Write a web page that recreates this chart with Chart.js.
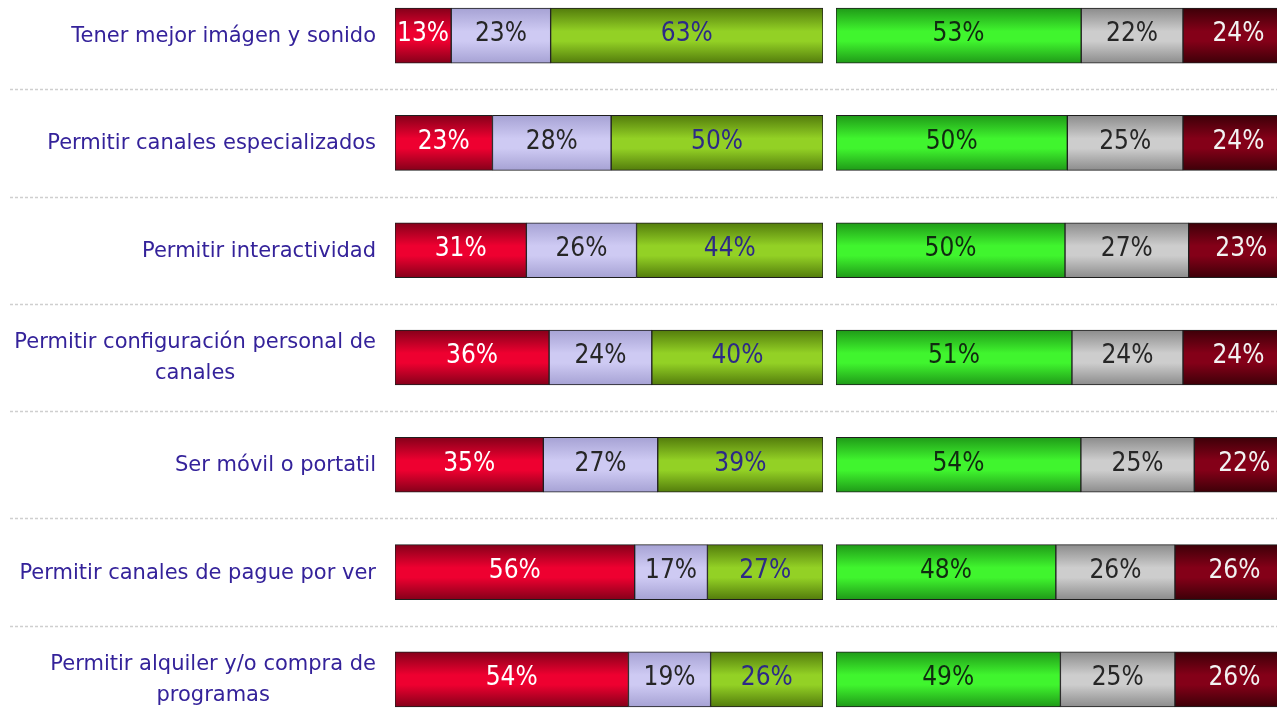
<!DOCTYPE html>
<html>
<head>
<meta charset="utf-8">
<script src="https://cdn.jsdelivr.net/npm/chart.js@4.4.1/dist/chart.umd.min.js"></script>
<style>
  html, body { margin: 0; padding: 0; background: #fff; overflow: hidden; width: 1277px; height: 708px; }
  #left { position: absolute; left: 0; top: -18px; width: 836px; height: 751px; }
  #right { position: absolute; left: 836px; top: -18px; width: 458px; height: 751px; }
</style>
</head>
<body>
<div id="left"><canvas id="chartLeft"></canvas></div>
<div id="right"><canvas id="chartRight"></canvas></div>
<script>
const CATEGORIES = [
  "Tener mejor imágen y sonido",
  "Permitir canales especializados",
  "Permitir interactividad",
  ["Permitir configuración personal de", "canales"],
  "Ser móvil o portatil",
  "Permitir canales de pague por ver",
  ["Permitir alquiler y/o compra de", "programas"],
];

// left block (red / lavender / olive)
const LEFT_RED = [13, 23, 31, 36, 35, 56, 54];
const LEFT_LAVENDER = [23, 28, 26, 24, 27, 17, 19];
const LEFT_OLIVE = [63, 50, 44, 40, 39, 27, 26];

// right block (green / grey / dark red)
const RIGHT_GREEN = [53, 50, 50, 51, 54, 48, 49];
const RIGHT_GREY = [22, 25, 27, 24, 25, 26, 25];
const RIGHT_DARKRED = [24, 24, 23, 24, 22, 26, 26];

const BAR_H = 55;
const LABEL_COLOR = "#34229a";

function shade(edge, mid) {
  return (ctx) => {
    const y = ctx.chart.scales.y;
    if (!y || ctx.dataIndex == null) return mid;
    const c = y.getPixelForValue(ctx.dataIndex);
    if (!Number.isFinite(c)) return mid; // scale not laid out yet
    const g = ctx.chart.ctx.createLinearGradient(0, c - BAR_H / 2, 0, c + BAR_H / 2);
    g.addColorStop(0, edge);
    g.addColorStop(0.42, mid);
    g.addColorStop(0.6, mid);
    g.addColorStop(1, edge);
    return g;
  };
}

// each row is scaled so the three parts fill the bar
function normalized(series) {
  return series.map((s) =>
    s.map((v, i) => (v / series.reduce((acc, arr) => acc + arr[i], 0)) * 100)
  );
}

const separators = {
  id: "separators",
  beforeDatasetsDraw(chart, args, opts) {
    const y = chart.scales.y;
    const ctx = chart.ctx;
    ctx.save();
    ctx.strokeStyle = "#cfcfcf";
    ctx.lineWidth = 1.5;
    ctx.setLineDash([3, 2]);
    for (let i = 0; i < CATEGORIES.length - 1; i++) {
      const yy = Math.round((y.getPixelForValue(i) + y.getPixelForValue(i + 1)) / 2) + 0.5;
      ctx.beginPath();
      ctx.moveTo(opts.x0, yy);
      ctx.lineTo(chart.width, yy);
      ctx.stroke();
    }
    ctx.restore();
  },
};

const valueLabels = {
  id: "valueLabels",
  afterDatasetsDraw(chart) {
    const ctx = chart.ctx;
    ctx.save();
    ctx.font = '26px "DejaVu Sans Condensed"';
    ctx.textAlign = "center";
    ctx.textBaseline = "middle";
    chart.data.datasets.forEach((ds, d) => {
      const meta = chart.getDatasetMeta(d);
      ctx.fillStyle = ds.textColor;
      meta.data.forEach((el, i) => {
        ctx.fillText(ds.raw[i] + "%", (el.x + el.base) / 2, el.y - 1);
      });
    });
    ctx.restore();
  },
};

const rowLabels = {
  id: "rowLabels",
  afterDraw(chart, args, opts) {
    const y = chart.scales.y;
    const ctx = chart.ctx;
    ctx.save();
    ctx.font = '21px "DejaVu Sans"';
    ctx.fillStyle = LABEL_COLOR;
    ctx.textAlign = "center";
    ctx.textBaseline = "middle";
    CATEGORIES.forEach((lab, i) => {
      const lines = Array.isArray(lab) ? lab : [lab];
      const widest = Math.max(...lines.map((l) => ctx.measureText(l).width));
      const cx = opts.right - widest / 2;
      const c = y.getPixelForValue(i);
      lines.forEach((l, k) => {
        ctx.fillText(l, cx, c + 1 + (k - (lines.length - 1) / 2) * 31);
      });
    });
    ctx.restore();
  },
};

function makeDatasets(series, styles) {
  const norm = normalized(series);
  return series.map((s, k) => ({
    data: norm[k],
    raw: s,
    textColor: styles[k].text,
    backgroundColor: shade(styles[k].edge, styles[k].mid),
    borderColor: "#1e1e1e",
    borderWidth: 1,
    borderSkipped: false,
    barThickness: BAR_H,
  }));
}

function makeChart(canvasId, datasets, padLeft, padRight, plugins, pluginOpts) {
  return new Chart(document.getElementById(canvasId), {
    type: "bar",
    data: { labels: CATEGORIES, datasets },
    options: {
      indexAxis: "y",
      responsive: true,
      maintainAspectRatio: false,
      animation: false,
      layout: { padding: { left: padLeft, right: padRight, top: 0, bottom: 0 } },
      scales: {
        x: { stacked: true, min: 0, max: 100, display: false },
        y: { stacked: true, display: false },
      },
      plugins: Object.assign({ legend: { display: false }, tooltip: { enabled: false } }, pluginOpts),
    },
    plugins,
  });
}

makeChart(
  "chartLeft",
  makeDatasets([LEFT_RED, LEFT_LAVENDER, LEFT_OLIVE], [
    { edge: "#85001a", mid: "#ee0030", text: "#ffffff" },
    { edge: "#a6a2d4", mid: "#cecaf3", text: "#262626" },
    { edge: "#537c0c", mid: "#93d125", text: "#2d2a86" },
  ]),
  395,
  13,
  [separators, valueLabels, rowLabels],
  { separators: { x0: 10 }, rowLabels: { right: 376 } }
);

makeChart(
  "chartRight",
  makeDatasets([RIGHT_GREEN, RIGHT_GREY, RIGHT_DARKRED], [
    { edge: "#1f9a18", mid: "#40f52e", text: "#102a10" },
    { edge: "#8c8c8c", mid: "#cdcdcd", text: "#262626" },
    { edge: "#3d0008", mid: "#840018", text: "#f2f2f2" },
  ]),
  0,
  0,
  [separators, valueLabels],
  { separators: { x0: 0 } }
);
</script>
</body>
</html>
